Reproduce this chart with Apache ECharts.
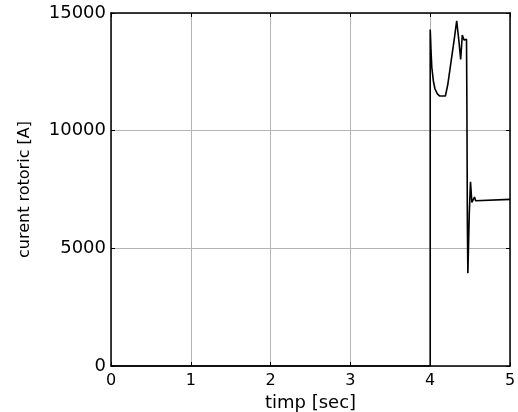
<!DOCTYPE html>
<html>
<head>
<meta charset="utf-8">
<script src="https://cdn.jsdelivr.net/npm/echarts@6/dist/echarts.min.js"></script>
<style>
  html, body { margin: 0; padding: 0; background: #fff; }
  #chart { width: 518px; height: 412px; }
</style>
</head>
<body>
<div id="chart"></div>
<script>
// Rotor current transient: time samples [s] and current [A]
var timeSec = [0, 4.0, 4.0, 4.005, 4.01, 4.02, 4.04, 4.06, 4.09, 4.12, 4.19,
  4.22, 4.26, 4.30, 4.332, 4.36, 4.382, 4.402, 4.424, 4.445, 4.455,
  4.46, 4.466, 4.472, 4.49, 4.505, 4.522, 4.54, 4.555, 4.57, 4.59, 5.0];
var currentA = [0, 0, 14300, 13900, 13400, 12700, 12100, 11770, 11560, 11470, 11470,
  11950, 12900, 13850, 14670, 13800, 13030, 14065, 13850, 13880, 13880,
  11000, 6000, 3940, 6500, 7830, 6950, 6900, 7180, 7020, 7080, 7080];

var xTicks = [0, 1, 2, 3, 4, 5];
var yTicks = [0, 5000, 10000, 15000];

var points = timeSec.map(function (t, i) { return [t, currentA[i]]; });

var font = 'DejaVu Sans';
var chart = echarts.init(document.getElementById('chart'), null, { renderer: 'canvas' });

var frameLine = { show: true, onZero: false, lineStyle: { color: '#000', width: 1.5 } };
var innerTick = { show: true, inside: true, length: 4, lineStyle: { color: '#000', width: 1 } };
var plain = function (v) { return String(v); };

chart.setOption({
  animation: false,
  backgroundColor: '#fff',
  grid: { left: 111, right: 8, top: 13, bottom: 46, containLabel: false, outerBoundsMode: 'none' },
  xAxis: [{
    type: 'value',
    min: xTicks[0], max: xTicks[xTicks.length - 1], interval: 1,
    name: 'timp [sec]',
    nameLocation: 'middle',
    nameGap: 21,
    nameTextStyle: { fontFamily: font, fontSize: 18, color: '#000' },
    axisLine: frameLine,
    axisTick: innerTick,
    axisLabel: { fontFamily: font, fontSize: 16, color: '#000', margin: 7, formatter: plain },
    splitLine: { show: true, lineStyle: { color: '#b4b4b4', width: 1 } }
  }, {
    type: 'value', position: 'top',
    min: xTicks[0], max: xTicks[xTicks.length - 1], interval: 1,
    axisLine: frameLine, axisTick: innerTick,
    axisLabel: { show: false }, splitLine: { show: false }
  }],
  yAxis: [{
    type: 'value',
    min: yTicks[0], max: yTicks[yTicks.length - 1], interval: 5000,
    name: 'curent rotoric [A]',
    nameLocation: 'middle',
    nameGap: 78,
    nameTextStyle: { fontFamily: font, fontSize: 16, color: '#000' },
    axisLine: frameLine,
    axisTick: innerTick,
    axisLabel: { fontFamily: font, fontSize: 18, color: '#000', margin: 5, formatter: plain },
    splitLine: { show: true, lineStyle: { color: '#b4b4b4', width: 1 } }
  }, {
    type: 'value', position: 'right',
    min: yTicks[0], max: yTicks[yTicks.length - 1], interval: 5000,
    axisLine: frameLine, axisTick: innerTick,
    axisLabel: { show: false }, splitLine: { show: false }
  }],
  series: [{
    type: 'line',
    data: points,
    showSymbol: false,
    smooth: false,
    clip: true,
    lineStyle: { color: '#000', width: 1.6 }
  }]
});
</script>
</body>
</html>
